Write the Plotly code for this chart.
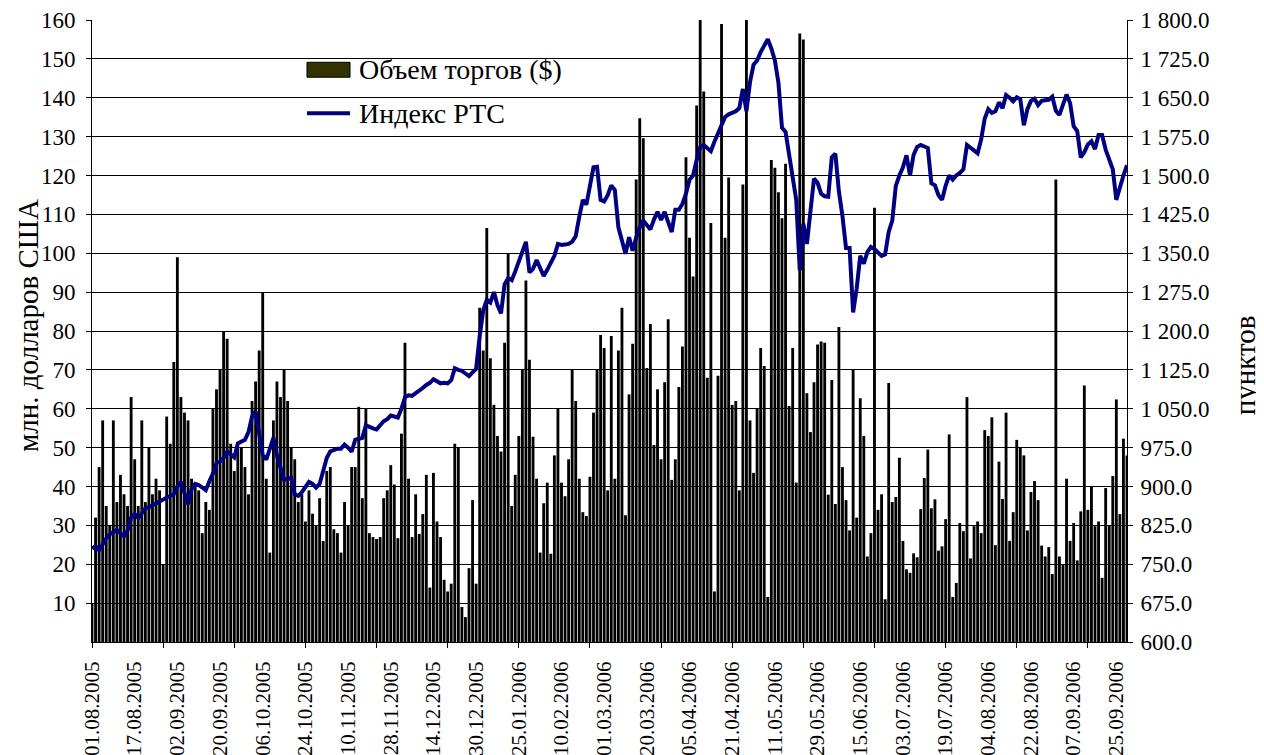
import plotly.graph_objects as go

# ---- data ----
tick_labels = ["01.08.2005", "17.08.2005", "02.09.2005", "20.09.2005", "06.10.2005",
               "24.10.2005", "10.11.2005", "28.11.2005", "14.12.2005", "30.12.2005",
               "25.01.2006", "10.02.2006", "01.03.2006", "20.03.2006", "05.04.2006",
               "21.04.2006", "11.05.2006", "29.05.2006", "15.06.2006", "03.07.2006",
               "19.07.2006", "04.08.2006", "22.08.2006", "07.09.2006", "25.09.2006"]

# trading volume, mln USD (one value per trading day)
volume = [
    10, 32, 45, 57, 35, 30, 57, 36, 43, 38, 35, 63, 47, 35, 57, 36, 50, 38, 42, 39,
    20, 58, 51, 72, 99, 63, 59, 57, 42, 40, 39, 28, 36,
    34, 60, 65, 70, 80, 78, 51, 44, 50, 50, 45, 38, 62, 67, 75, 90, 42, 23, 57, 67,
    63, 70, 62, 50, 47, 36, 38, 31, 39, 33, 30, 37,
    26, 44, 45, 29, 28, 23, 36, 30, 45, 45, 60.5, 37, 60, 28, 27, 26.5, 27, 37, 39, 45.5,
    40.5, 26.7, 53.6, 77, 42, 27, 38, 27.8, 32.9, 43, 14, 43.5, 31, 27,
    16, 13, 15, 51, 50, 9, 6.4, 19, 36.5, 15, 86, 75, 106.5, 73, 61, 53, 49, 77, 100, 35,
    43, 53, 70, 93, 72.6, 52.8, 42, 23, 35.7, 41, 22.7, 48, 60,
    41, 37.5, 47, 70, 62, 42, 33.4, 32.4, 42.5, 59, 70, 79, 75.6, 39, 78.7, 42, 75, 86, 32.6, 63.7,
    76.7, 119, 134.7, 129.6, 70.5, 81.8, 50.7, 65, 47, 66.8, 83, 41.7, 47,
    65.6, 76, 124.7, 104, 94, 138, 172, 141.6, 68, 107.8, 13, 68.5, 159, 104, 119.5, 61, 62, 39, 117.7, 175,
    57, 43.5, 60, 75.6, 71, 11.6, 124, 122, 115.7, 109, 123, 60.7, 75.6,
    41, 156.5, 155, 64, 54, 66.8, 76.5, 77.3, 77, 37.9, 67.4, 35.5, 81, 45, 36.5, 28.7, 70, 32, 62.7, 53,
    22, 28, 111.7, 34, 38, 11, 66.6, 36, 37.3, 47.4, 26, 18.7, 17.8,
    22.8, 21.8, 34.2, 42.2, 49.5, 34.4, 36.7, 23.5, 24.6, 31.6, 53.4, 11.6, 15.2, 30.6, 28.5, 63, 21.5, 29.8, 31, 28,
    54.5, 53, 57.8, 24.9, 46.4, 36.8, 59, 26, 33.4, 52, 50, 48, 28.7,
    38.6, 41.4, 36.5, 24.8, 22, 24.4, 17.5, 119, 22, 19.9, 42, 26, 30.6, 21, 33.6, 66, 34, 40, 29.8, 31,
    16.5, 39.6, 30, 42.7, 62.4, 32.9, 52.3, 48,
]

# RTS index, points
rts = [
    780, 785, 777, 790, 800, 808, 812, 816, 810, 804, 815, 840, 847, 839, 848, 858, 860, 864, 866, 870,
    876, 878, 882, 885, 900, 909, 885, 866, 895, 905, 903, 898, 893,
    910, 925, 945, 948, 955, 967, 962, 956, 983, 986, 990, 1005, 1035, 1045, 1000, 960, 952, 975, 994, 960,
    935, 913, 915, 917, 885, 882, 889, 900, 909, 905, 898, 905, 930,
    955, 968, 971, 973, 973, 981, 975, 967, 990, 992, 994, 1018, 1014, 1012, 1010, 1018, 1026, 1030, 1037, 1035,
    1033, 1050, 1072, 1076, 1075, 1080, 1084, 1090, 1096, 1100, 1107, 1104, 1099,
    1100, 1099, 1105, 1128, 1125, 1123, 1118, 1113, 1120, 1127, 1190, 1240, 1260, 1255, 1275, 1250, 1234, 1290, 1302, 1298,
    1315, 1335, 1350, 1372, 1313, 1320, 1337, 1320, 1306, 1318, 1330, 1345, 1368,
    1366, 1367, 1368, 1372, 1383, 1420, 1453, 1444, 1480, 1516, 1517, 1453, 1450, 1462, 1481, 1472, 1400, 1375, 1349, 1381,
    1355, 1380, 1400, 1413, 1405, 1396, 1415, 1430, 1414, 1430, 1410, 1391, 1434,
    1434, 1445, 1465, 1492, 1500, 1530, 1555, 1559, 1552, 1547, 1565, 1582, 1600, 1613, 1618, 1620, 1624, 1630, 1667, 1624,
    1680, 1714, 1722, 1738, 1750, 1763, 1745, 1722, 1679, 1592, 1584, 1540, 1495,
    1453, 1317, 1407, 1368, 1430, 1494, 1486, 1465, 1460, 1459, 1535, 1542, 1469, 1422, 1360, 1360, 1236, 1282, 1345, 1330,
    1352, 1362, 1358, 1352, 1345, 1348, 1391, 1413, 1480, 1500, 1516, 1539, 1500,
    1540, 1555, 1559, 1556, 1553, 1485, 1481, 1462, 1453, 1480, 1500, 1492, 1500, 1505, 1512, 1559, 1553, 1547, 1543, 1570,
    1610, 1628, 1621, 1624, 1641, 1630, 1655, 1650, 1643, 1651, 1647, 1597, 1628,
    1644, 1648, 1636, 1644, 1645, 1646, 1652, 1625, 1617, 1635, 1656, 1640, 1595, 1586, 1535, 1545, 1560, 1566, 1551, 1578,
    1578, 1550, 1530, 1512, 1453, 1480, 1500, 1520,
]

left_ticks = list(range(10, 161, 10))
right_ticks = [600 + 75 * k for k in range(17)]

# ---- styling ----
FONT = "Liberation Serif"
YTICK_SIZE = 23
XTICK_SIZE = 21
LEGEND_SIZE = 28
TITLE_SIZE = 29
LABEL_EVERY = 12
TICKMARK_EVERY = 20

n = len(volume)
x = list(range(n))
xmax = n - 1


def fmt_right(v):
    s = f"{v:,.1f}"
    return s.replace(",", " ")


fig = go.Figure()
fig.add_trace(go.Bar(
    x=x, y=volume, name="Объем торгов ($)",
    marker=dict(color="#000000", line=dict(width=0)),
    xaxis="x", yaxis="y", showlegend=False,
))
fig.add_trace(go.Scatter(
    x=x, y=rts, name="Индекс РТС", mode="lines",
    line=dict(color="#000080", width=4),
    xaxis="x", yaxis="y2", showlegend=False,
))
# helper trace so the label axis is drawn
fig.add_trace(go.Scatter(
    x=[0, xmax], y=[0, 0], mode="lines", line=dict(width=0, color="rgba(0,0,0,0)"),
    xaxis="x3", yaxis="y", showlegend=False, hoverinfo="skip",
))

# the page body adds an 8 px offset, so the figure is 8 px smaller on each side
fig.update_layout(
    template="none",
    width=1256, height=747,
    margin=dict(l=84, r=137, t=12, b=113, autoexpand=False),
    paper_bgcolor="white", plot_bgcolor="white",
    bargap=0.2,
    font=dict(family=FONT, color="black", size=YTICK_SIZE),
    xaxis=dict(
        range=[0, xmax], tickmode="array", tickvals=list(range(0, n, TICKMARK_EVERY)),
        showticklabels=False, ticks="outside", ticklen=5, tickcolor="black",
        showline=True, linecolor="black", linewidth=1, showgrid=False, zeroline=False,
        automargin=False,
    ),
    xaxis3=dict(
        overlaying="x", anchor="y", range=[0, xmax], tickmode="array",
        tickvals=[i * LABEL_EVERY for i in range(len(tick_labels))], ticktext=tick_labels,
        tickangle=-90, ticks="outside", ticklen=10, tickcolor="rgba(0,0,0,0)",
        tickfont=dict(family=FONT, size=XTICK_SIZE, color="black"),
        showline=False, showgrid=False, zeroline=False, automargin=False,
        ticklabeloverflow="allow",
    ),
    yaxis=dict(
        range=[0, 160], tickmode="array", tickvals=left_ticks,
        ticktext=[str(v) for v in left_ticks],
        ticks="outside", ticklen=5, tickcolor="black",
        showline=True, linecolor="black", linewidth=1,
        showgrid=True, gridcolor="black", gridwidth=1, zeroline=False,
        ticklabelstandoff=6, automargin=False, ticklabeloverflow="allow",
        tickfont=dict(family=FONT, size=YTICK_SIZE, color="black"),
    ),
    yaxis2=dict(
        overlaying="y", side="right", anchor="x", range=[600, 1800], tickmode="array",
        tickvals=right_ticks, ticktext=[fmt_right(v) for v in right_ticks],
        ticks="outside", ticklen=5, tickcolor="black",
        showline=True, linecolor="black", linewidth=1, showgrid=False, zeroline=False,
        ticklabelstandoff=3, automargin=False, ticklabeloverflow="allow",
        tickfont=dict(family=FONT, size=YTICK_SIZE, color="black"),
    ),
    shapes=[
        # legend background
        dict(type="rect", xref="paper", yref="paper", x0=0.170, x1=0.490, y0=0.828, y1=0.976,
             fillcolor="white", line=dict(width=0), layer="between"),
        # legend swatches
        dict(type="rect", xref="paper", yref="paper", x0=0.2077, x1=0.2493, y0=0.908, y1=0.932,
             fillcolor="#333300", line=dict(color="black", width=1), layer="above"),
        dict(type="line", xref="paper", yref="paper", x0=0.2077, x1=0.2493, y0=0.850, y1=0.850,
             line=dict(color="#000080", width=4), layer="above"),
    ],
    annotations=[
        dict(text="Объем торгов ($)", xref="paper", yref="paper", x=0.256, y=0.920,
             xanchor="left", yanchor="middle", showarrow=False,
             font=dict(family=FONT, size=LEGEND_SIZE, color="black")),
        dict(text="Индекс РТС", xref="paper", yref="paper", x=0.256, y=0.850,
             xanchor="left", yanchor="middle", showarrow=False,
             font=dict(family=FONT, size=LEGEND_SIZE, color="black")),
        dict(text="млн. долларов США", xref="paper", yref="paper", x=-0.0618, y=0.508,
             xanchor="center", yanchor="middle", textangle=-90, showarrow=False,
             font=dict(family=FONT, size=TITLE_SIZE, color="black")),
        dict(text="пунктов", xref="paper", yref="paper", x=1.114, y=0.445,
             xanchor="center", yanchor="middle", textangle=-90, showarrow=False,
             font=dict(family=FONT, size=TITLE_SIZE, color="black")),
    ],
)

fig.write_html("out.html")
